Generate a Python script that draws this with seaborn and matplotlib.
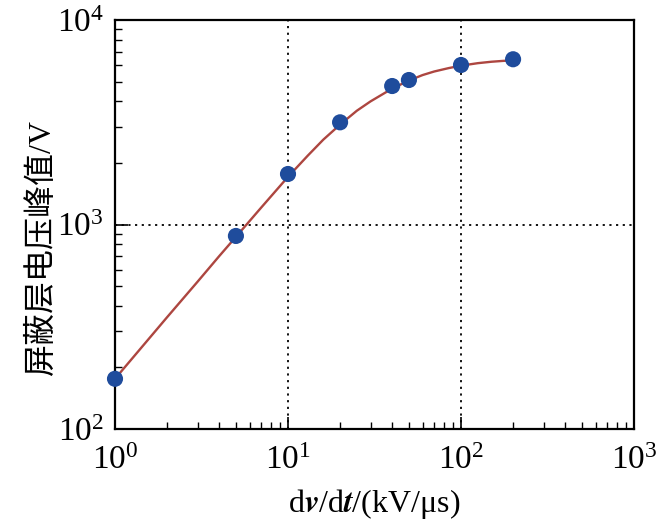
import numpy as np
import pandas as pd
import matplotlib
matplotlib.use("Agg")
import matplotlib.pyplot as plt
from matplotlib.ticker import FixedLocator, LogLocator, NullFormatter
import seaborn as sns

# measured points
dvdt = [1, 5, 10, 20, 40, 50, 100, 200]
peak_v = [176, 879, 1766, 3160, 4755, 5088, 6026, 6427]

# fitted curve
curve_x = [1, 1.5, 2, 3, 4, 5, 7, 10, 13, 16, 20, 25, 30, 40, 50, 60, 70, 85, 100, 125, 150, 175, 200]
curve_y = [176, 264, 352, 525, 700, 870, 1210, 1710, 2170, 2600, 3080, 3600, 4000, 4620, 5060, 5380, 5600, 5820, 5980, 6150, 6250, 6310, 6350]

x_ticks = [1, 10, 100, 1000]
x_ticklabels = [r"$\mathregular{10^{0}}$", r"$\mathregular{10^{1}}$", r"$\mathregular{10^{2}}$", r"$\mathregular{10^{3}}$"]
y_ticks = [100, 1000, 10000]
y_ticklabels = [r"$\mathregular{10^{2}}$", r"$\mathregular{10^{3}}$", r"$\mathregular{10^{4}}$"]

xlabel = r"d$\mathbfit{v}$/d$\mathbfit{t}$/(kV/μs)"
ylabel = "屏蔽层电压峰值/V"

sns.set_theme(style="ticks")
plt.rcParams["font.family"] = ["Liberation Serif", "Noto Sans CJK SC", "DejaVu Sans"]
plt.rcParams["mathtext.fontset"] = "stix"

fig = plt.figure(figsize=(6.56, 5.28), dpi=100)
ax = fig.add_axes([115/656, 1 - 429/528, (634 - 115)/656, (429 - 20)/528])

df_pts = pd.DataFrame({"x": dvdt, "y": peak_v})
df_curve = pd.DataFrame({"x": curve_x, "y": curve_y})

ax.set_xscale("log")
ax.set_yscale("log")

sns.lineplot(data=df_curve, x="x", y="y", ax=ax, color="#ad4640", linewidth=1.7, zorder=3, sort=True)
sns.scatterplot(data=df_pts, x="x", y="y", ax=ax, color="#1f4c9c", s=135, edgecolor="none", zorder=4, clip_on=False)

ax.set_xlim(1, 1000)
ax.set_ylim(100, 10000)

ax.xaxis.set_major_locator(FixedLocator(x_ticks))
ax.set_xticklabels(x_ticklabels)
ax.yaxis.set_major_locator(FixedLocator(y_ticks))
ax.set_yticklabels(y_ticklabels)
ax.xaxis.set_minor_locator(LogLocator(base=10, subs=np.arange(2, 10)))
ax.yaxis.set_minor_locator(LogLocator(base=10, subs=np.arange(2, 10)))
ax.xaxis.set_minor_formatter(NullFormatter())
ax.yaxis.set_minor_formatter(NullFormatter())

ax.tick_params(which="major", direction="in", length=9, width=1.2, labelsize=24, color="black", labelcolor="black")
ax.tick_params(axis="x", which="major", pad=12)
ax.tick_params(axis="y", which="major", pad=8)
ax.tick_params(which="minor", direction="in", length=5, width=1.0, color="black")
ax.tick_params(top=False, right=False, which="both")

for v in [10, 100]:
    ax.axvline(v, color="black", linestyle=(0, (1.2, 2.5)), linewidth=1.3, zorder=1)
ax.axhline(1000, color="black", linestyle=(0, (1.2, 2.5)), linewidth=1.3, zorder=1)

for s in ax.spines.values():
    s.set_visible(True)
    s.set_linewidth(1.6)
    s.set_color("black")

ax.set_xlabel(xlabel, fontsize=23, color="black", labelpad=8)
ax.set_ylabel(ylabel, fontsize=23, color="black")
ax.yaxis.set_label_coords(-0.112, 0.443)

fig.savefig("out.png", dpi=100)
